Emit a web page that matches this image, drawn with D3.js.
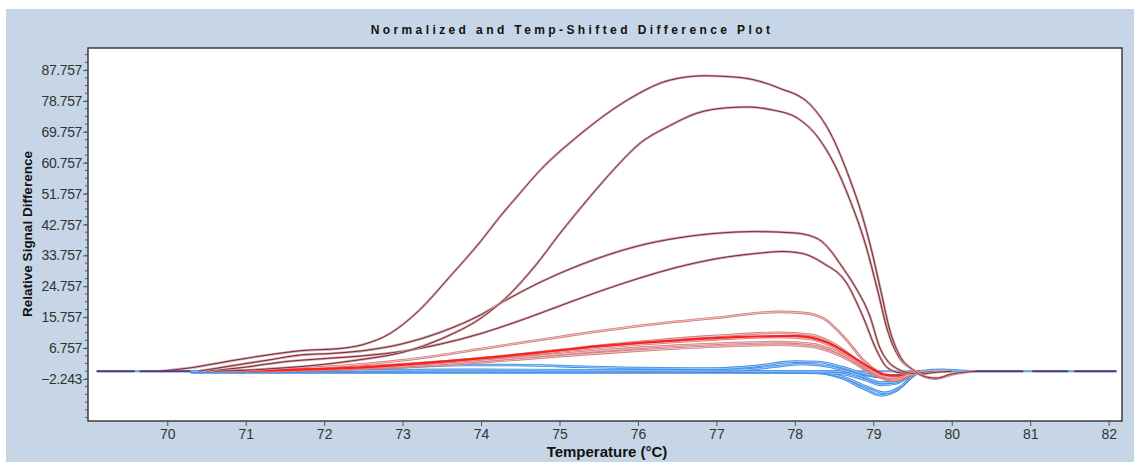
<!DOCTYPE html>
<html>
<head>
<meta charset="utf-8">
<script src="https://cdn.jsdelivr.net/npm/d3@7"></script>
<style>
  body { margin: 0; background: #fff; }
  text { font-family: "Liberation Sans", Arial, sans-serif; }
</style>
</head>
<body>
<script>
"use strict";
// curves: [temperature, relative signal difference]
var curveA = [[69.9,0],[70.3,1],[70.8,3],[71.3,4.8],[71.7,6],[72.2,6.6],[72.5,7.8],[72.84,11],[73.2,17.5],[73.6,27.5],[74,38],[74.24,45],[74.5,52],[74.75,58.5],[75.26,69],[75.8,78.1],[76.4,84.8],[76.85,86.1],[77.3,85.6],[77.8,82.5],[78.2,77.6],[78.45,69.5],[78.7,56],[78.85,46],[78.98,35],[79.1,23],[79.21,12],[79.35,4],[79.5,0.5],[79.65,-1.5],[79.8,-2],[80,-0.8],[80.3,0]];
var curveB = [[70.6,0],[71,0.3],[71.5,1],[72,2],[72.5,3.5],[73,5.5],[73.5,9.5],[74,15.5],[74.3,21],[74.7,31],[75,40],[75.39,50.9],[75.7,59],[76.03,66.5],[76.4,71.5],[76.75,75.2],[77.1,76.7],[77.39,77],[77.7,76.2],[78.03,73.8],[78.3,68],[78.5,60.5],[78.7,50],[78.9,37],[79.05,24],[79.18,12],[79.33,4],[79.5,0.5],[79.65,-1.6],[79.8,-2.2],[80,-1],[80.3,0]];
var curveC = [[70.4,0],[70.8,1.5],[71.3,3.3],[71.7,4.75],[72.1,5.2],[72.5,6],[73,8],[73.5,11.5],[74,16.5],[74.3,20.5],[74.5,23],[75,28.5],[75.5,33],[76,36.5],[76.5,38.8],[77,40.2],[77.5,40.7],[78,40.3],[78.3,38.5],[78.45,35.3],[78.6,30.5],[78.74,25.7],[78.96,15.8],[79.08,7],[79.2,2.5],[79.3,0.8],[79.45,-0.5],[79.6,-0.8],[79.8,-0.3],[80,0]];
var curveD = [[70.5,0],[71,1.2],[71.5,2.8],[71.95,3.6],[72.5,4.5],[73,5.8],[73.5,8],[74,11],[74.5,14.8],[75,19],[75.5,23.2],[76,27],[76.5,30.3],[77,32.8],[77.5,34.3],[77.85,34.9],[78.1,34.3],[78.36,31.5],[78.66,25.7],[78.87,15.8],[79.04,6.2],[79.17,1.2],[79.35,-0.5],[79.5,-0.6],[79.7,-0.2],[80,0]];
var curveE = [[70.8,0],[71.5,0.5],[72,1.2],[73,3.2],[74,6.5],[75,10],[76,13.2],[77,15.6],[77.8,17.3],[78.1,17],[78.36,15.5],[78.66,9.1],[78.87,3.3],[79.08,-0.5],[79.2,-1.8],[79.35,-1.5],[79.5,0],[79.6,0]];
var curveF = [[71,0],[72,0.8],[73,2],[74,3.8],[75,6.2],[76,8.5],[77,10.3],[77.8,11.2],[78.2,10.6],[78.5,8],[78.75,4],[78.95,0.5],[79.15,-1.8],[79.3,-2.3],[79.45,-1],[79.6,0]];
var curveG = [[71,0],[72,0.6],[73,1.8],[74,3.5],[75,5.8],[76,7.8],[77,9.3],[77.8,10],[78.2,9.4],[78.5,7],[78.75,3.5],[78.95,0.3],[79.15,-2],[79.3,-2.5],[79.45,-1.2],[79.6,0]];
var curveH = [[71.2,0],[72,0.5],[73,1.5],[74,3],[75,5],[76,6.8],[77,8],[77.8,8.5],[78.2,8],[78.5,6],[78.75,3],[78.95,0],[79.15,-2.2],[79.3,-2.6],[79.45,-1.3],[79.6,0]];
var curveI = [[71.3,0],[72,0.4],[73,1.2],[74,2.6],[75,4.4],[76,6],[77,7.2],[77.8,7.7],[78.2,7.2],[78.5,5.3],[78.75,2.5],[78.95,-0.3],[79.15,-2.3],[79.3,-2.7],[79.45,-1.4],[79.6,0]];
var curveRed = [[70.8,0],[71.5,0.4],[72.6,1.3],[73.5,2.8],[74.2,4.2],[74.8,5.6],[75.5,7.3],[76.5,9],[77.3,10],[78,10.3],[78.4,8.5],[78.8,3.3],[78.96,1],[79.15,-1],[79.3,-1.3],[79.45,-0.5],[79.6,0]];
var blue1 = [[70.3,0],[71,0.1],[72,0.5],[73,1.2],[73.8,1.8],[74.4,1.8],[75.3,1.3],[76,0.9],[77,0.8],[77.5,1.5],[78,2.8],[78.3,2.7],[78.6,1.2],[78.9,-0.8],[79.1,-1.4],[79.3,-1.2],[79.5,-0.3],[79.6,0]];
var blue2 = [[70.3,0],[72,0.2],[74,0.4],[76,0.3],[77.3,0.4],[77.8,1.5],[78.1,2.1],[78.45,1.3],[78.8,-1],[79.1,-3.3],[79.3,-3.1],[79.5,-0.8],[79.6,0]];
var blue3 = [[70.3,-0.3],[74,-0.3],[77,-0.3],[78,-0.2],[78.3,-0.4],[78.6,-2],[78.9,-5.3],[79.1,-7],[79.3,-5.6],[79.5,-1.5],[79.6,0]];
var blue4 = [[70.3,-0.3],[77.5,-0.3],[78.3,-0.5],[78.6,-1.6],[78.9,-4.4],[79.15,-6.3],[79.35,-4.5],[79.55,-0.5],[79.6,0]];
var blue5 = [[70.3,0],[76,0],[78.2,-0.3],[78.6,-0.8],[78.9,-2.5],[79.1,-4],[79.3,-3.5],[79.5,-0.8],[79.6,0]];
var blue6 = [[70.3,0],[78.5,0],[78.8,-0.7],[79.05,-1.6],[79.25,-2],[79.45,-1],[79.6,0],[79.9,0.4],[80.1,0.1],[80.3,0]];
var baseline = [[69.1,0],[82.1,0]];

var xTicks = [70,71,72,73,74,75,76,77,78,79,80,81,82];
var yTicks = [-2.243,6.757,15.757,24.757,33.757,42.757,51.757,60.757,69.757,78.757,87.757];

var width = 1134, height = 462;
var margin = { top: 48, right: 12, bottom: 41, left: 88 };

var svg = d3.select("body").append("svg")
    .attr("width", width)
    .attr("height", height);

// frame background
svg.append("rect")
    .attr("x", 6).attr("y", 9)
    .attr("width", width - 6).attr("height", height - 9)
    .style("fill", "#c6d6e6");

var x = d3.scaleLinear().domain([68.99, 82.17]).range([margin.left, width - margin.right]);
var y = d3.scaleLinear().domain([-14.5, 94.2]).range([height - margin.bottom, margin.top]);

svg.append("rect")
    .attr("x", x.range()[0]).attr("y", y.range()[1])
    .attr("width", x.range()[1] - x.range()[0])
    .attr("height", y.range()[0] - y.range()[1])
    .style("fill", "#fff");

var line = d3.line()
    .x(function(d){ return x(d[0]); })
    .y(function(d){ return y(d[1]); })
    .curve(d3.curveMonotoneX);

var plot = svg.append("g");

function drawCurve(data, outer, inner, outerW, innerW){
  plot.append("path").datum(data)
      .attr("d", line)
      .style("fill", "none")
      .style("stroke", outer)
      .style("stroke-width", outerW);
  if(inner) {
    plot.append("path").datum(data)
        .attr("d", line)
        .style("fill", "none")
        .style("stroke", inner)
        .style("stroke-width", innerW);
  }
}

// baseline under everything
drawCurve(baseline, "#5fa0ea", null, 2);

// blue curves
[blue3, blue4, blue5, blue6, blue2, blue1].forEach(function(c){
  drawCurve(c, "#3a8ae6", "#bcd8f6", 2.6, 0.8);
});
// pink curves
[curveI, curveH, curveG, curveF, curveE].forEach(function(c){
  drawCurve(c, "#d47a7a", "#f3d6d6", 2.6, 0.8);
});
drawCurve(curveRed, "#ff1f1f", null, 2.2);
// brown curves
[curveD, curveC, curveB, curveA].forEach(function(c){
  drawCurve(c, "#cfa6ab", "#7d2a35", 2.5, 1);
});

// purple dashes at the flat ends
plot.append("path").datum([[69.1,0],[70.3,0]])
    .attr("d", line)
    .style("fill", "none").style("stroke", "#523c86").style("stroke-width", 2)
    .style("stroke-dasharray", "38,5,60");
plot.append("path").datum([[80.3,0],[82.1,0]])
    .attr("d", line)
    .style("fill", "none").style("stroke", "#523c86").style("stroke-width", 2)
    .style("stroke-dasharray", "48,9,36,6,60");

// plot border
svg.append("rect")
    .attr("x", x.range()[0]).attr("y", y.range()[1])
    .attr("width", x.range()[1] - x.range()[0])
    .attr("height", y.range()[0] - y.range()[1])
    .style("fill", "none")
    .style("stroke", "#3c3c3c")
    .style("stroke-width", 1.5);

// y axis minor ticks, every quarter step
var yMinor = [];
for(var v = -2.243 - 2.25*5; v < 94.2; v += 2.25) {
  if(v > -14.5) yMinor.push(v);
}
svg.selectAll(".yMinor").data(yMinor).enter()
    .append("line").attr("class", "yMinor")
    .attr("x1", margin.left - 3).attr("x2", margin.left)
    .attr("y1", function(d){ return y(d); }).attr("y2", function(d){ return y(d); })
    .style("stroke", "#555").style("stroke-width", 1);

var yAxis = svg.append("g")
    .attr("transform", "translate(" + margin.left + ",0)")
    .call(d3.axisLeft(y).tickValues(yTicks).tickSize(5).tickPadding(1)
      .tickFormat(function(d){ return d3.format(".3f")(d); }));
yAxis.select(".domain").remove();
yAxis.selectAll("line").style("stroke", "#555");
yAxis.selectAll("text")
    .style("font-size", "14px")
    .style("letter-spacing", "-0.4px")
    .style("fill", "#333");

// x axis
var xAxis = svg.append("g")
    .attr("transform", "translate(0," + (height - margin.bottom) + ")")
    .call(d3.axisBottom(x).tickValues(xTicks).tickSize(5).tickPadding(3));
xAxis.select(".domain").remove();
xAxis.selectAll("line").style("stroke", "#555");
xAxis.selectAll("text")
    .style("font-size", "14px")
    .style("fill", "#333");

// titles
svg.append("text")
    .attr("x", 572).attr("y", 34)
    .attr("text-anchor", "middle")
    .style("font-size", "12px")
    .style("font-weight", "bold")
    .style("letter-spacing", "3.4px")
    .style("fill", "#111")
    .text("Normalized and Temp-Shifted Difference Plot");

svg.append("text")
    .attr("transform", "translate(32,234) rotate(-90)")
    .attr("text-anchor", "middle")
    .style("font-size", "13.5px")
    .style("font-weight", "bold")
    .style("fill", "#111")
    .text("Relative Signal Difference");

svg.append("text")
    .attr("x", 607).attr("y", 457)
    .attr("text-anchor", "middle")
    .style("font-size", "15px")
    .style("font-weight", "bold")
    .style("fill", "#111")
    .text("Temperature (°C)");
</script>
</body>
</html>
